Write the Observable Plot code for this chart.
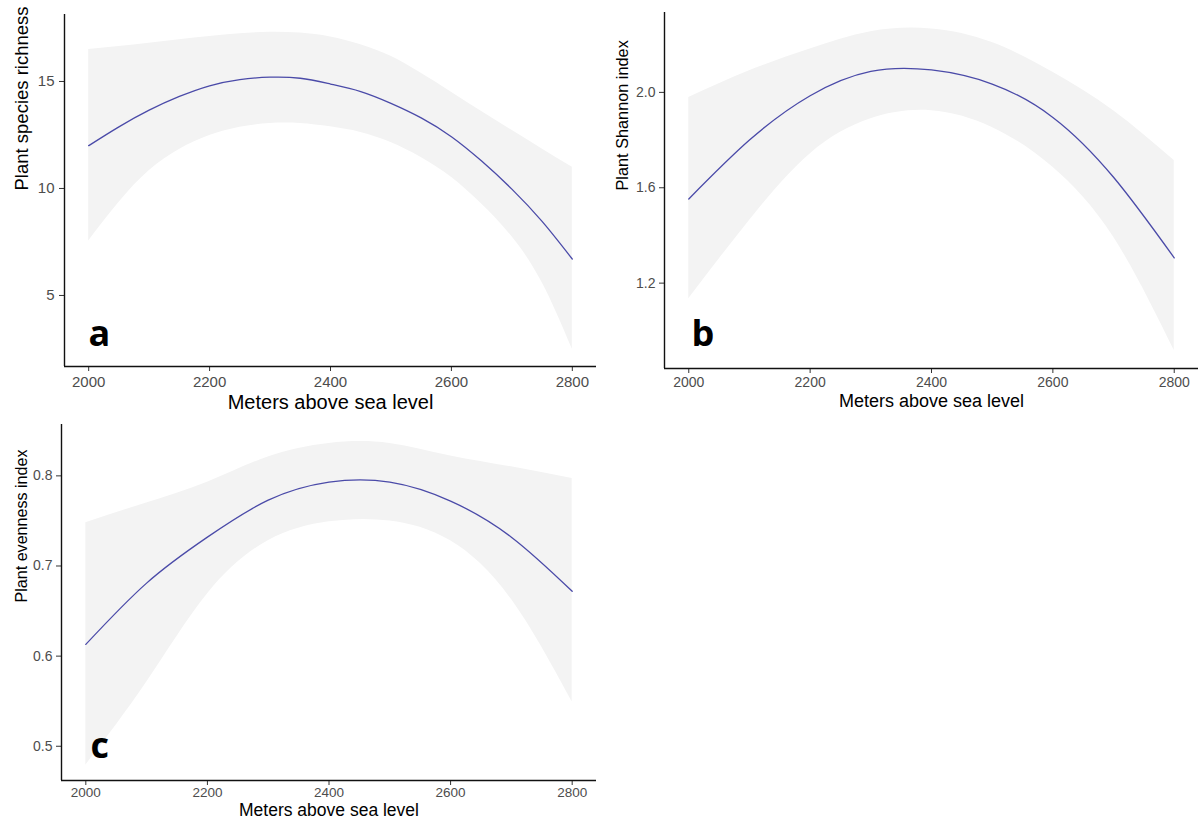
<!DOCTYPE html>
<html>
<head>
<meta charset="utf-8">
<script src="https://cdn.jsdelivr.net/npm/d3@7"></script>
<script src="https://cdn.jsdelivr.net/npm/@observablehq/plot@0.6"></script>
<style>
  html, body { margin: 0; padding: 0; background: #fff; }
  #root { position: relative; width: 1198px; height: 819px; background: #fff; overflow: hidden; }
  .panel { position: absolute; }
  .panel svg { overflow: visible; display: block; }
</style>
</head>
<body>
<div id="root">
  <div class="panel" id="pa" style="left:0px;top:0px"></div>
  <div class="panel" id="pb" style="left:600px;top:0px"></div>
  <div class="panel" id="pc" style="left:0px;top:410px"></div>
</div>
<script>
// Elevations (m a.s.l.) at which the fitted curves were read
const elevationA  = [2000, 2050, 2100, 2150, 2200, 2250, 2300, 2350, 2400, 2450, 2500, 2550, 2600, 2650, 2700, 2750, 2800];
const elevationBC = [2000, 2100, 2200, 2300, 2400, 2500, 2600, 2700, 2800];
const xTicks = [2000, 2200, 2400, 2600, 2800];

// (a) Plant species richness
const richnessFit   = [12.0, 12.88, 13.66, 14.30, 14.80, 15.09, 15.20, 15.15, 14.88, 14.53, 13.98, 13.30, 12.42, 11.28, 9.97, 8.46, 6.70];
const richnessUpper = [16.49, 16.63, 16.79, 16.95, 17.10, 17.23, 17.30, 17.26, 17.08, 16.72, 16.18, 15.38, 14.50, 13.60, 12.72, 11.85, 10.99];
const richnessLower = [7.55, 9.35, 10.83, 11.82, 12.47, 12.86, 13.04, 13.04, 12.88, 12.62, 12.15, 11.45, 10.52, 9.27, 7.75, 5.60, 2.49];
const richnessTicks = [5, 10, 15];

// (b) Plant Shannon index
const shannonFit   = [1.553, 1.80, 1.986, 2.088, 2.094, 2.035, 1.895, 1.644, 1.306];
const shannonUpper = [1.979, 2.091, 2.182, 2.254, 2.266, 2.209, 2.084, 1.923, 1.714];
const shannonLower = [1.135, 1.463, 1.742, 1.889, 1.923, 1.853, 1.686, 1.393, 0.918];
const shannonTicks = [1.2, 1.6, 2.0];

// (c) Plant evenness index
const evennessFit   = [0.613, 0.681, 0.732, 0.773, 0.793, 0.793, 0.772, 0.732, 0.672];
const evennessUpper = [0.748, 0.770, 0.793, 0.821, 0.836, 0.836, 0.822, 0.810, 0.797];
const evennessLower = [0.479, 0.571, 0.669, 0.728, 0.749, 0.750, 0.728, 0.663, 0.549];
const evennessTicks = [0.5, 0.6, 0.7, 0.8];

const xTitle = "Meters above sea level";

function rows(elev, fit, lo, hi) {
  return elev.map((e, i) => ({elev: e, fit: fit[i], lo: lo[i], hi: hi[i]}));
}

function panel(cfg) {
  const data = rows(cfg.elev, cfg.fit, cfg.lo, cfg.hi);
  const xDom = [1960, 2840];
  return Plot.plot({
    width: cfg.width, height: cfg.height,
    marginLeft: cfg.ml, marginRight: cfg.mr, marginTop: cfg.mt, marginBottom: cfg.mb,
    x: {domain: xDom, label: null},
    y: {domain: cfg.yDom, label: null},
    style: {fontFamily: "'Liberation Sans', Arial, sans-serif", background: "transparent", overflow: "visible"},
    marks: [
      Plot.areaY(data, {x: "elev", y1: "lo", y2: "hi", fill: "#f3f3f3", curve: "natural"}),
      Plot.lineY(data, {x: "elev", y: "fit", stroke: "#4a4aa8", strokeWidth: 1.3, curve: "natural"}),
      Plot.axisX({ticks: xTicks, tickFormat: d => String(d), tickSize: 5, tickPadding: cfg.xpad, fontSize: cfg.xTickFs, color: "#4d4d4d", stroke: "#333", label: null}),
      Plot.axisY({ticks: cfg.yTicks, tickFormat: cfg.yFmt, tickSize: 5, tickPadding: cfg.ypad, fontSize: cfg.yTickFs, color: "#4d4d4d", stroke: "#333", label: null}),
      Plot.ruleX([xDom[0]], {stroke: "#111", strokeWidth: 1.4}),
      Plot.ruleY([cfg.yDom[0]], {stroke: "#111", strokeWidth: 1.4}),
      Plot.text([xTitle], {text: d => d, frameAnchor: "bottom", dy: cfg.xTitleDy, fontSize: cfg.xTitleFs, fill: "#000", lineAnchor: "bottom"}),
      Plot.text([cfg.yTitle], {text: d => d, frameAnchor: "left", rotate: -90, dx: cfg.yTitleDx, fontSize: cfg.yTitleFs, fill: "#000", lineAnchor: "middle"}),
      Plot.text([cfg.letter], {text: d => d, frameAnchor: "bottom-left", textAnchor: "start", lineAnchor: "bottom",
        dx: cfg.letterDx, dy: cfg.letterDy, fontSize: 36, fontWeight: "bold", fontFamily: "'Open Sans', sans-serif", fill: "#000"})
    ]
  });
}

document.getElementById("pa").appendChild(panel({
  width: 600, height: 410, ml: 64, mr: 4, mt: 14, mb: 44,
  elev: elevationA,
  yDom: [1.68, 18.13], yTicks: richnessTicks, yFmt: d => String(d),
  fit: richnessFit, lo: richnessLower, hi: richnessUpper,
  xTickFs: 15, yTickFs: 15, xpad: 5, ypad: 5,
  xTitleDy: 42, xTitleFs: 20, yTitle: "Plant species richness", yTitleDx: -42, yTitleFs: 18.5,
  letter: "a", letterDx: 24, letterDy: -21
}));

document.getElementById("pb").appendChild(panel({
  width: 598, height: 420, ml: 64, mr: 0, mt: 12, mb: 52,
  elev: elevationBC,
  yDom: [0.842, 2.335], yTicks: shannonTicks, yFmt: d => d.toFixed(1),
  fit: shannonFit, lo: shannonLower, hi: shannonUpper,
  xTickFs: 14, yTickFs: 14, xpad: 4, ypad: 4,
  xTitleDy: 38, xTitleFs: 18, yTitle: "Plant Shannon index", yTitleDx: -42, yTitleFs: 16.3,
  letter: "b", letterDx: 27, letterDy: -23
}));

document.getElementById("pc").appendChild(panel({
  width: 600, height: 409, ml: 61, mr: 4, mt: 14, mb: 39,
  elev: elevationBC,
  yDom: [0.462, 0.857], yTicks: evennessTicks, yFmt: d => d.toFixed(1),
  fit: evennessFit, lo: evennessLower, hi: evennessUpper,
  xTickFs: 13.5, yTickFs: 14, xpad: 2, ypad: 4,
  xTitleDy: 35, xTitleFs: 17.5, yTitle: "Plant evenness index", yTitleDx: -40, yTitleFs: 16.1,
  letter: "c", letterDx: 29, letterDy: -23
}));
</script>
</body>
</html>
